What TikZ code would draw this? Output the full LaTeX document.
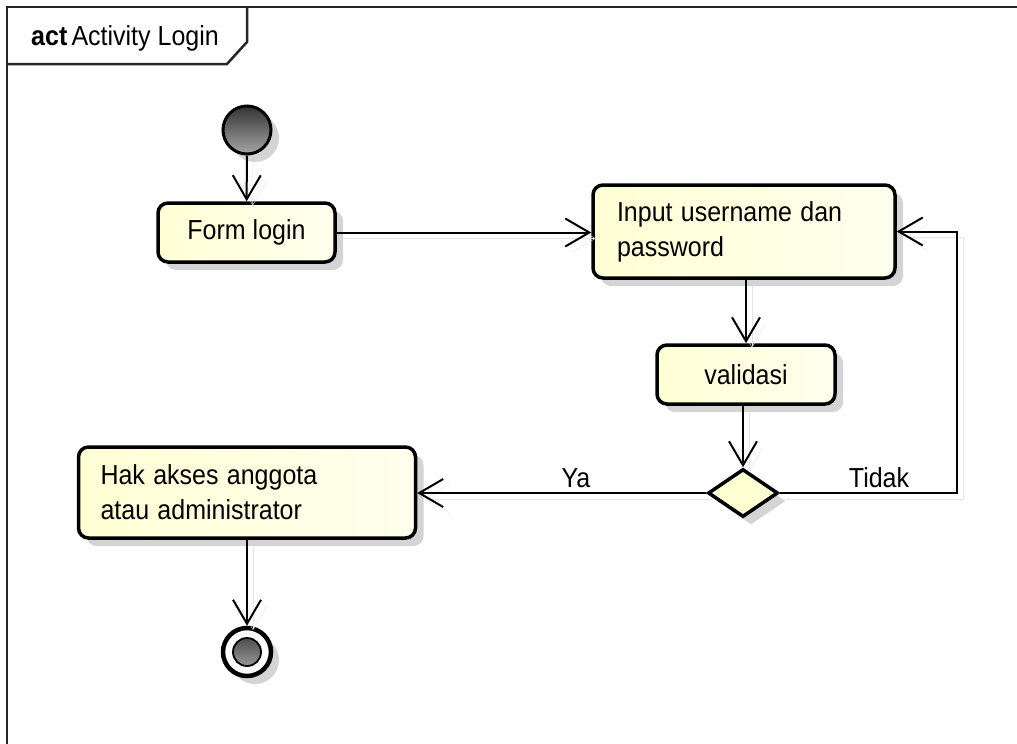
\documentclass[tikz,border=0pt]{standalone}
\usepackage{graphicx}
\usepackage{fontspec}
\setmainfont{Liberation Sans}
\usetikzlibrary{arrows.meta,shapes.geometric,shadows}
\definecolor{yfillA}{RGB}{255,255,212}
\definecolor{yfillB}{RGB}{255,255,238}
\newcommand{\tallt}[1]{\scalebox{1}[1.1]{#1}}
\begin{document}
\begin{tikzpicture}[x=1pt,y=-1pt,
  shad/.style={drop shadow={shadow xshift=8pt,shadow yshift=-8pt,fill=black!17,opacity=1}},
  actbox/.style={draw=black, line width=3.5pt, rounded corners=10pt, left color=yfillA, right color=yfillB,
    shad, font=\fontsize{25}{35}\selectfont, inner ysep=0pt},
  decbox/.style={shape=diamond, draw=black, line width=3.5pt, fill=yfillA, shad, minimum width=70pt, minimum height=48pt, inner sep=0pt},
  startnode/.style={circle, draw=black, line width=3pt, top color=black!80, bottom color=black!35, minimum size=48pt, inner sep=0pt, shad},
  endnode/.style={circle, draw=black, line width=4.5pt, fill=white, minimum size=48pt, inner sep=0pt, shad,
    path picture={\shade[top color=black!80,bottom color=black!30] (path picture bounding box.center) circle (14pt);
                  \draw[line width=1.8pt] (path picture bounding box.center) circle (14pt);}},
  conn/.style={line width=2pt, -{Straight Barb[length=24pt,width=28pt]},
    preaction={draw=black!10, transform canvas={xshift=6pt,yshift=-6pt}}},
  lbl/.style={font=\fontsize{25}{30}\selectfont, inner sep=0pt, anchor=base},
  frameline/.style={line width=2.5pt, draw=black!85}
]
\useasboundingbox (0,0) rectangle (1017,744);

% frame
\draw[frameline] (7,744) -- (7,7) -- (1017,7);
\draw[frameline] (7,64) -- (227,64) -- (247,42) -- (247,7);
\node[anchor=base west, inner sep=0pt, font=\fontsize{25}{28}\selectfont] (title) at (31,45) {\tallt{\textbf{act}\,Activity Login}};

% nodes
\node[startnode] (init) at (247,130) {};
\node[actbox, minimum width=177pt, minimum height=59pt, align=center] (form) at (246.5,232.5) {\tallt{Form login}};
\node[actbox, text width=254pt, inner xsep=24pt, minimum height=93pt, align=left] (input) at (744,231.5) {\tallt{Input username dan}\\\tallt{password}};
\node[actbox, minimum width=178pt, minimum height=59pt, align=center] (valid) at (746,374.5) {\tallt{validasi}};
\node[decbox] (dec) at (743,493) {};
\node[actbox, text width=293pt, inner xsep=22pt, minimum height=91pt, align=left] (hak) at (247,492.5) {\tallt{Hak akses anggota}\\\tallt{atau administrator}};
\node[endnode] (final) at (247,652) {};

\coordinate (loop) at (957,493);

% connectors
\draw[conn] (init) -- (form);
\draw[conn] (form.east) -- (form.east -| input.west);
\draw[conn] (valid.north |- input.south) -- (valid.north);
\draw[conn] (dec.north |- valid.south) -- (dec.north);
\draw[conn] (dec.east) -- (dec.east -| loop) |- (input.east);
\draw[conn] (dec.west) -- (dec.west -| hak.east);
\draw[conn] (hak) -- (final);

\node[lbl] (lya) at (576,487) {\tallt{Ya}};
\node[lbl] (ltidak) at (879,487) {\tallt{Tidak}};
\end{tikzpicture}
\end{document}
